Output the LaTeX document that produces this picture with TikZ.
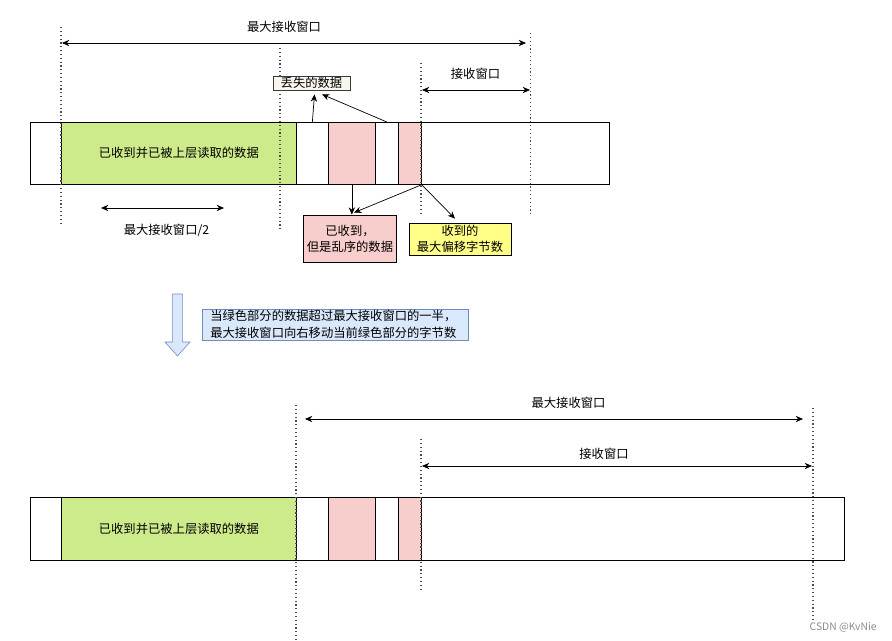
\documentclass[tikz,border=0pt]{standalone}
\usepackage{fontspec}
\usepackage{tikz}
\usetikzlibrary{arrows.meta, calc, positioning}
\newfontfamily\cjk{Noto Sans CJK SC}

\definecolor{readgreen}{HTML}{CDEB8B}
\definecolor{lostpink}{HTML}{F8CECC}
\definecolor{offyellow}{HTML}{FFFF88}
\definecolor{notefill}{HTML}{F9F7ED}
\definecolor{notedraw}{HTML}{36393D}
\definecolor{hintfill}{HTML}{DAE8FC}
\definecolor{hintdraw}{HTML}{6C8EBF}

\begin{document}
\begin{tikzpicture}[
          x=0.3mm, y=-0.3mm,
          >={Stealth[length=2.2mm, width=1.9mm]},
          every node/.style={font=\cjk\fontsize{10.5}{13.6}\selectfont},
          cell/.style={draw, line width=0.6pt, anchor=north west, inner sep=0pt},
          guide/.style={line width=1.2pt, black!70, dash pattern=on 0.35mm off 0.8mm},
          conn/.style={line width=0.6pt, ->},
          win/.style={line width=0.6pt, <->},
          lab/.style={inner sep=1pt},
          box/.style={draw, line width=0.6pt, inner sep=1pt, align=center},
        ]

        \fill[white] (0,0) rectangle (892,641);
        \useasboundingbox (0,0) rectangle (892,641);

        % one cell of a byte row: name, left, right, top, bottom, fill, text
        \newcommand{\barcell}[7]{%
          \node[cell, fill=#6,
                minimum width={(#3-#2)*0.3mm},
                minimum height={(#5-#4)*0.3mm}] (#1) at (#2,#4) {#7};
        }

        % -----------------------
        % BEFORE: upper byte row
        % -----------------------
        \barcell{t0}{30}{61}{122}{184}{white}{}
        \barcell{tgreen}{61}{296}{122}{184}{readgreen}{已收到并已被上层读取的数据}
        \barcell{tw1}{296}{328}{122}{184}{white}{}
        \barcell{tp1}{328}{375}{122}{184}{lostpink}{}
        \barcell{tw2}{375}{398}{122}{184}{white}{}
        \barcell{tp2}{398}{421}{122}{184}{lostpink}{}
        \barcell{trest}{421}{609}{122}{184}{white}{}

        % dotted guides
        \coordinate (g1a) at (61,27);   \coordinate (g1b) at (61,223);
        \coordinate (g2a) at (280,48);  \coordinate (g2b) at (280,232);
        \coordinate (g3a) at (421,63);  \coordinate (g3b) at (421,215);
        \coordinate (g4a) at (530.5,33); \coordinate (g4b) at (530.5,215);
        \draw[guide] (g1a) -- (g1b);
        \draw[guide] (g2a) -- (g2b);
        \draw[guide] (g3a) -- (g3b);
        \draw[guide] (g4a) -- (g4b);

        % window spans
        \coordinate (maxL) at (62,43);   \coordinate (maxR) at (526,43);
        \coordinate (rcvL) at (422,90);  \coordinate (rcvR) at (530,90);
        \coordinate (halfL) at (101,208); \coordinate (halfR) at (224,208);
        \draw[win] (maxL) -- (maxR);
        \draw[win] (rcvL) -- (rcvR);
        \draw[win] (halfL) -- (halfR);
        \node[lab] (maxlab) at (284,27) {最大接收窗口};
        \node[lab] (rcvlab) at (475.5,74) {接收窗口};
        \node[lab] (halflab) at (166.5,230) {最大接收窗口/2};

        % callouts
        \node[box, fill=notefill, draw=notedraw,
              minimum width={77*0.3mm}, minimum height={14*0.3mm}] (lost) at (311.5,83) {丢失的数据};
        \node[box, fill=lostpink, minimum width={93.5*0.3mm}, minimum height={47*0.3mm}]
              (ooo) at (350,238.5) {已收到，\\但是乱序的数据};
        \node[box, fill=offyellow, minimum width={102*0.3mm}, minimum height={32*0.3mm}]
              (maxoff) at (460,239) {收到的\\最大偏移字节数};

        \coordinate (lostin1) at ($(lost.south)+(3,4)$);
        \coordinate (lostin2) at ($(lost.south)+(10.5,4)$);
        \draw[conn] (tw1.north) -- (lostin1);
        \draw[conn] (tw2.north) -- (lostin2);
        \draw[conn] (tp1.south) -- (tp1.south |- ooo.north);
        \draw[conn] (tp2.south east) -- ($(ooo.north)+(4,-2)$);
        \draw[conn] (tp2.south east) -- ($(maxoff.north)+(-5,-4)$);

        % -----------------------
        % hint: slide the window
        % -----------------------
        \draw[hintdraw, fill=hintfill, line width=0.5pt]
          (172.7,294) -- (182.3,294) -- (182.3,342) -- (190,342)
          -- (177.5,356) -- (165,342) -- (172.7,342) -- cycle;
        \node[draw=hintdraw, fill=hintfill, line width=0.5pt, anchor=west,
              text width={250*0.3mm}, inner xsep={8*0.3mm}, inner ysep=1pt,
              minimum height={31*0.3mm}, align=left,
              font=\cjk\fontsize{10.5}{15}\selectfont] (hint) at (202,324.5)
          {当绿色部分的数据超过最大接收窗口的一半，\\最大接收窗口向右移动当前绿色部分的字节数};

        % -----------------------
        % AFTER: lower byte row
        % -----------------------
        \barcell{b0}{30}{61}{497}{560}{white}{}
        \barcell{bgreen}{61}{296}{497}{560}{readgreen}{已收到并已被上层读取的数据}
        \barcell{bw1}{296}{328}{497}{560}{white}{}
        \barcell{bp1}{328}{375}{497}{560}{lostpink}{}
        \barcell{bw2}{375}{398}{497}{560}{white}{}
        \barcell{bp2}{398}{421}{497}{560}{lostpink}{}
        \barcell{brest}{421}{844}{497}{560}{white}{}

        \coordinate (h1a) at (296,405); \coordinate (h1b) at (296,641);
        \coordinate (h2a) at (421,439); \coordinate (h2b) at (421,592);
        \coordinate (h3a) at (813,408); \coordinate (h3b) at (813,620);
        \draw[guide] (h1a) -- (h1b);
        \draw[guide] (h2a) -- (h2b);
        \draw[guide] (h3a) -- (h3b);

        \coordinate (bmaxL) at (305,419); \coordinate (bmaxR) at (803,419);
        \coordinate (brcvL) at (422,466); \coordinate (brcvR) at (812,466);
        \draw[win] (bmaxL) -- (bmaxR);
        \draw[win] (brcvL) -- (brcvR);
        \node[lab] (bmaxlab) at (568.5,403) {最大接收窗口};
        \node[lab] (brcvlab) at (604,454) {接收窗口};

        \node[lab, anchor=east, text=black!45, font=\cjk\fontsize{8.8}{9}\selectfont]
          (mark) at (878,627) {CSDN @KvNie};

\end{tikzpicture}
\end{document}
